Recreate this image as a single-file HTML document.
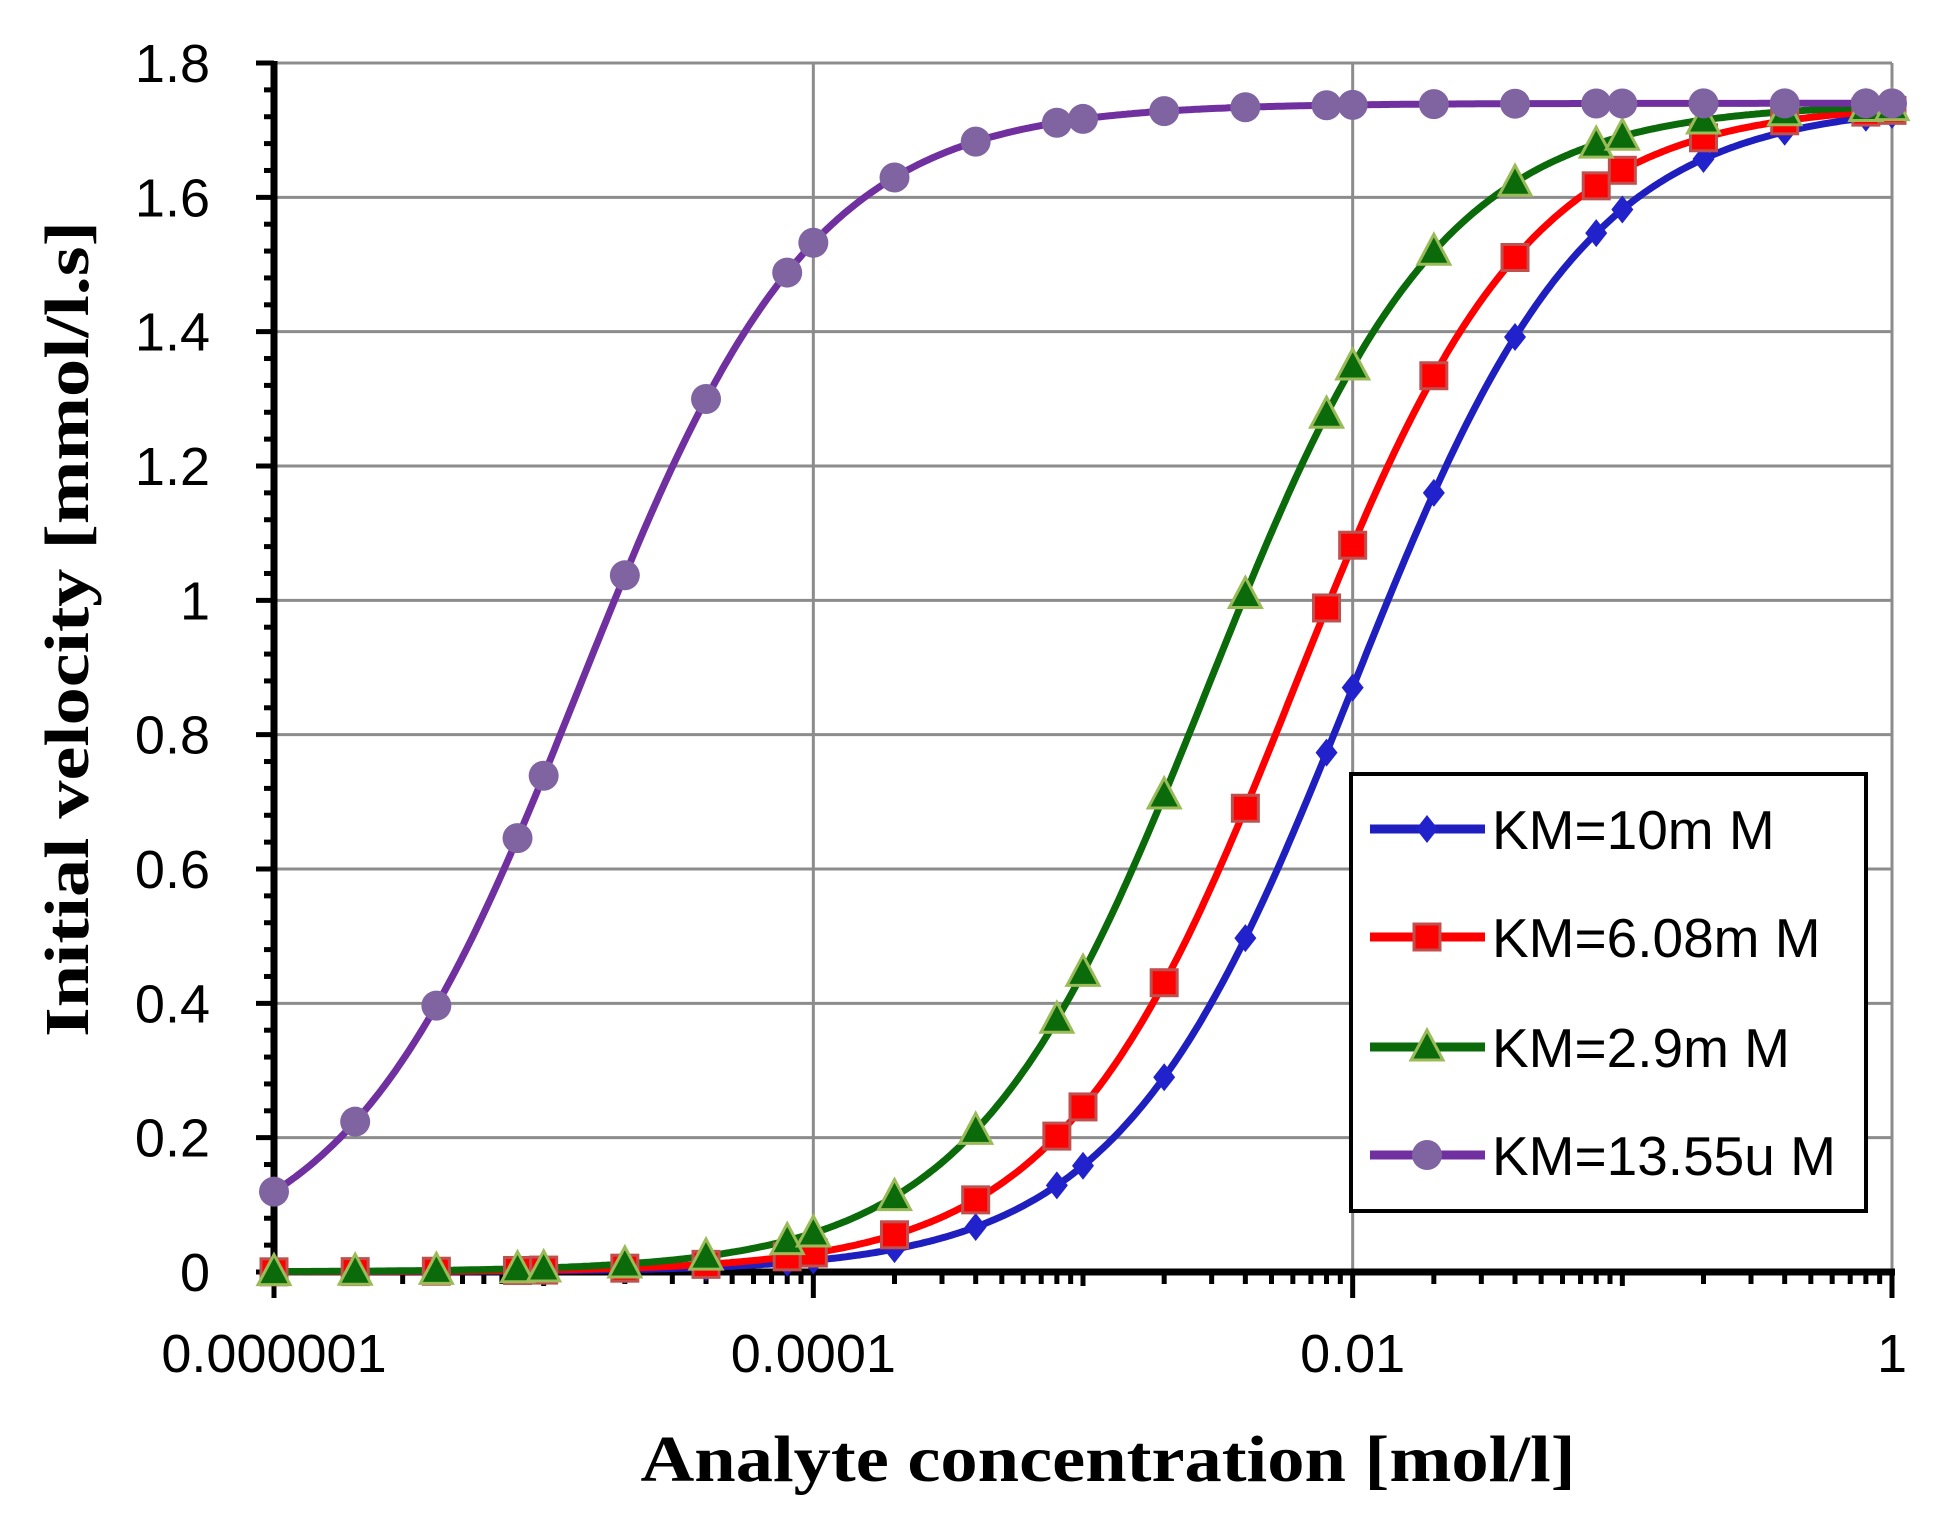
<!DOCTYPE html>
<html><head><meta charset="utf-8"><style>
html,body{margin:0;padding:0;background:#fff;}
svg{display:block;}
</style></head><body>
<svg id="c" width="1938" height="1536" xmlns="http://www.w3.org/2000/svg"></svg>
<script>
const L=274,R=1892,T=63,B=1272;
const X=s=>L+(Math.log10(s)+6)*(R-L)/6;
const Y=v=>B-v*(B-T)/1.8;
let h='<rect width="1938" height="1536" fill="#fff"/>';
for(let i=1;i<=9;i++){h+=`<line x1="${L}" x2="${R}" y1="${Y(i*0.2)}" y2="${Y(i*0.2)}" stroke="#8c8c8c" stroke-width="3"/>`;}
[-4,-2,0].forEach(k=>{const x=X(Math.pow(10,k));h+=`<line x1="${x}" x2="${x}" y1="${T}" y2="${B}" stroke="#8c8c8c" stroke-width="3"/>`;});
for(let i=0;i<=45;i++){const y=Y(i*0.04);const len=(i%5==0)?18:10;h+=`<line x1="${L-len}" x2="${L}" y1="${y}" y2="${y}" stroke="#000" stroke-width="5"/>`;}
for(let k=-6;k<=0;k++){for(let m=1;m<=9;m++){if(k==0&&m>1)break;const x=X(m*Math.pow(10,k));const len=(m==1&&k%2==0)?26:(m==1?14:12);h+=`<line x1="${x}" x2="${x}" y1="${B}" y2="${B+len}" stroke="#000" stroke-width="5"/>`;}}
h+=`<line x1="${L}" x2="${L}" y1="${T-2}" y2="${B+3}" stroke="#000" stroke-width="7"/>`;
h+=`<line x1="${L-3}" x2="${R+3}" y1="${B}" y2="${B}" stroke="#000" stroke-width="7"/>`;
const yl=['0','0.2','0.4','0.6','0.8','1','1.2','1.4','1.6','1.8'];
yl.forEach((t,i)=>{h+=`<text x="210" y="${Y(i*0.2)+19}" text-anchor="end" font-family="Liberation Sans, sans-serif" font-size="54" fill="#000">${t}</text>`;});
[['0.000001',-6],['0.0001',-4],['0.01',-2],['1',0]].forEach(([t,k])=>{h+=`<text x="${X(Math.pow(10,k))}" y="1372" text-anchor="middle" font-family="Liberation Sans, sans-serif" font-size="54" fill="#000">${t}</text>`;});
h+=`<text x="1108" y="1481" text-anchor="middle" font-family="Liberation Serif, serif" font-weight="bold" font-size="66" textLength="935" lengthAdjust="spacingAndGlyphs" fill="#000">Analyte concentration [mol/l]</text>`;
h+=`<text transform="translate(88,629) rotate(-90)" text-anchor="middle" font-family="Liberation Serif, serif" font-weight="bold" font-size="62" textLength="816" lengthAdjust="spacingAndGlyphs" fill="#000">Initial velocity [mmol/l.s]</text>`;
const V=1.74;
const ser=[
 {K:0.01,c:'#1f1fbf',m:'d',mc:'#2222cc'},
 {K:0.00608,c:'#ff0000',m:'s',mc:'#ff0000'},
 {K:0.0029,c:'#0b6b0b',m:'t',mc:'#0b6b0b'},
 {K:0.00001355,c:'#7030a0',m:'c',mc:'#8064a2'}];
const pts=[];for(let k=-6;k<=-1;k++)[1,2,4,8].forEach(m=>pts.push(m*Math.pow(10,k)));pts.push(1);
function marker(s,x,y){
 if(s.m=='d')return `<path d="M${x} ${y-14}L${x+11} ${y}L${x} ${y+14}L${x-11} ${y}Z" fill="${s.mc}"/>`;
 if(s.m=='s')return `<rect x="${x-13}" y="${y-13}" width="26" height="26" fill="#ff0000" stroke="#c0504d" stroke-width="3"/>`;
 if(s.m=='t')return `<path d="M${x} ${y-17}L${x+16} ${y+13}L${x-16} ${y+13}Z" fill="#0b6b0b" stroke="#9bbb59" stroke-width="3"/>`;
 return `<circle cx="${x}" cy="${y}" r="15" fill="#8064a2"/>`;
}
ser.forEach(s=>{
 let d='';for(let i=0;i<=600;i++){const lx=-6+i*6/600;const S=Math.pow(10,lx);const v=V*S/(s.K+S);d+=(i?'L':'M')+X(S).toFixed(1)+' '+Y(v).toFixed(1);}
 h+=`<path d="${d}" fill="none" stroke="${s.c}" stroke-width="7" stroke-linejoin="round"/>`;
});
ser.forEach(s=>{pts.forEach(S=>{const v=V*S/(s.K+S);h+=marker(s,X(S),Y(v));});});
h+=`<rect x="1351" y="774" width="515" height="437" fill="#fff" stroke="#000" stroke-width="4"/>`;
const ly=[829,937,1047,1155],lt=['KM=10m M','KM=6.08m M','KM=2.9m M','KM=13.55u M'];
ser.forEach((s,i)=>{h+=`<line x1="1370" x2="1485" y1="${ly[i]}" y2="${ly[i]}" stroke="${s.c}" stroke-width="9"/>`;h+=marker(s,1427,ly[i]);
 h+=`<text x="1492" y="${ly[i]+20}" font-family="Liberation Sans, sans-serif" font-size="55" fill="#000" xml:space="preserve">${lt[i]}</text>`;});
document.getElementById('c').innerHTML=h;
</script>
</body></html>
